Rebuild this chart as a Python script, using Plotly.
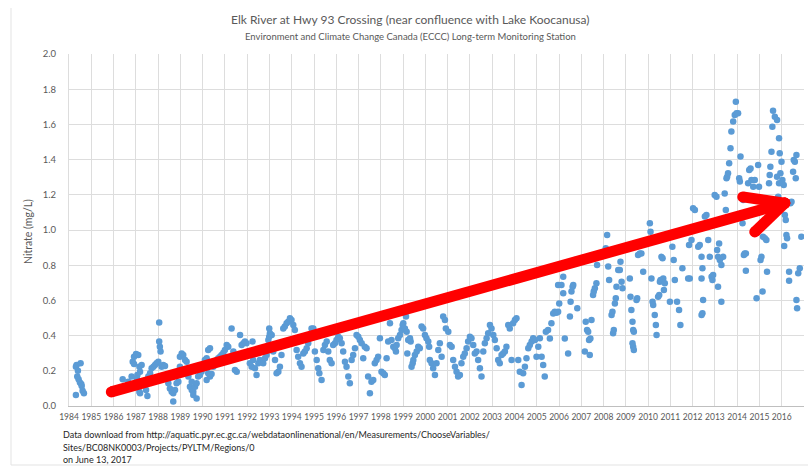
import plotly.graph_objects as go

# ---------------- data (decimal year, nitrate mg/L) ----------------
dates_1984_1991 = [1984.31, 1984.34, 1984.40, 1984.52, 1984.37, 1984.43, 1984.49, 1984.55, 1984.57, 1984.61,
                   1984.67, 1984.31, 1986.41, 1986.66, 1986.81, 1986.86, 1986.92, 1987.01, 1987.11, 1986.92,
                   1987.16, 1987.26, 1987.19, 1987.07, 1987.04, 1987.19, 1987.16, 1987.46, 1987.52, 1987.41,
                   1987.56, 1987.64, 1987.71, 1987.79, 1987.86, 1987.93, 1988.01, 1988.05, 1988.08, 1988.11,
                   1988.05, 1988.16, 1988.23, 1988.31, 1988.38, 1988.46, 1988.53, 1988.61, 1988.68, 1988.76,
                   1988.68, 1988.83, 1988.91, 1988.98, 1989.06, 1989.13, 1989.21, 1989.28, 1988.98, 1989.36,
                   1989.43, 1989.51, 1989.58, 1989.66, 1989.73, 1989.51, 1989.58, 1989.73, 1989.80, 1989.88,
                   1989.95, 1990.03, 1990.10, 1990.18, 1990.25, 1990.33, 1990.18, 1990.25, 1990.33, 1990.40,
                   1990.48, 1990.55, 1990.63, 1990.70, 1990.78, 1990.85, 1990.93, 1991.00, 1991.08, 1991.15]
nitrate_1984_1991 = [0.223, 0.233, 0.200, 0.243, 0.167, 0.152, 0.133, 0.125, 0.114, 0.087,
                     0.072, 0.062, 0.152, 0.138, 0.167, 0.252, 0.280, 0.296, 0.290, 0.239,
                     0.223, 0.233, 0.195, 0.176, 0.157, 0.072, 0.081, 0.091, 0.057, 0.133,
                     0.167, 0.186, 0.214, 0.223, 0.233, 0.243, 0.252, 0.366, 0.337, 0.309,
                     0.475, 0.223, 0.233, 0.227, 0.167, 0.129, 0.100, 0.081, 0.072, 0.091,
                     0.025, 0.129, 0.138, 0.280, 0.299, 0.290, 0.261, 0.252, 0.223, 0.167,
                     0.110, 0.091, 0.081, 0.110, 0.129, 0.138, 0.062, 0.043, 0.167, 0.176,
                     0.195, 0.214, 0.261, 0.271, 0.318, 0.328, 0.148, 0.186, 0.167, 0.182,
                     0.223, 0.243, 0.261, 0.271, 0.280, 0.290, 0.303, 0.318, 0.347, 0.337]

dates_1991_1998 = [1991.30, 1991.38, 1991.45, 1991.53, 1991.68, 1991.75, 1991.83, 1991.90, 1991.97, 1992.05,
                   1992.12, 1992.20, 1992.24, 1992.27, 1992.35, 1992.42, 1992.50, 1992.57, 1992.65, 1992.72,
                   1992.80, 1992.87, 1992.95, 1992.99, 1993.02, 1993.10, 1992.99, 1993.17, 1993.25, 1993.32,
                   1993.40, 1993.47, 1993.54, 1993.62, 1993.69, 1993.77, 1993.84, 1993.92, 1993.99, 1994.07,
                   1994.14, 1994.22, 1994.29, 1994.37, 1994.44, 1994.52, 1994.59, 1994.67, 1994.74, 1994.82,
                   1994.89, 1994.97, 1995.04, 1995.12, 1995.19, 1995.24, 1995.34, 1995.42, 1995.49, 1995.57,
                   1995.64, 1995.71, 1995.79, 1995.86, 1995.94, 1996.01, 1996.09, 1996.16, 1996.24, 1996.31,
                   1996.39, 1996.46, 1996.54, 1996.61, 1996.69, 1996.76, 1996.84, 1996.91, 1996.99, 1997.06,
                   1997.14, 1997.21, 1997.28, 1997.36, 1997.43, 1997.51, 1997.58, 1997.66, 1997.73, 1997.81,
                   1997.88, 1997.96, 1998.03, 1998.11, 1998.18, 1998.26, 1998.33]
nitrate_1991_1998 = [0.441, 0.309, 0.204, 0.195, 0.403, 0.347, 0.356, 0.366, 0.356, 0.309,
                     0.243, 0.223, 0.366, 0.261, 0.214, 0.176, 0.243, 0.261, 0.252, 0.243,
                     0.271, 0.290, 0.375, 0.394, 0.413, 0.403, 0.441, 0.309, 0.261, 0.186,
                     0.195, 0.223, 0.290, 0.441, 0.451, 0.470, 0.479, 0.498, 0.489, 0.460,
                     0.432, 0.318, 0.280, 0.243, 0.223, 0.299, 0.309, 0.328, 0.356, 0.385,
                     0.441, 0.441, 0.309, 0.261, 0.214, 0.186, 0.148, 0.318, 0.347, 0.366,
                     0.309, 0.261, 0.243, 0.347, 0.356, 0.375, 0.394, 0.385, 0.356, 0.309,
                     0.252, 0.223, 0.167, 0.129, 0.261, 0.290, 0.328, 0.403, 0.394, 0.375,
                     0.356, 0.271, 0.337, 0.328, 0.167, 0.072, 0.138, 0.148, 0.243, 0.261,
                     0.280, 0.385, 0.195, 0.186, 0.176, 0.271, 0.366]

dates_1998_2005 = [1998.41, 1998.48, 1998.56, 1998.63, 1998.68, 1998.71, 1998.78, 1998.86, 1998.93, 1998.98,
                   1999.01, 1999.08, 1999.13, 1999.16, 1999.19, 1999.23, 1999.31, 1999.34, 1999.38, 1999.43,
                   1999.46, 1999.53, 1999.61, 1999.68, 1999.75, 1999.83, 1999.90, 1999.98, 2000.05, 2000.13,
                   2000.17, 2000.20, 2000.28, 2000.35, 2000.43, 2000.50, 2000.58, 2000.65, 2000.73, 2000.80,
                   2000.88, 2000.92, 2001.03, 2001.10, 2001.18, 2001.25, 2001.33, 2001.40, 2001.47, 2001.55,
                   2001.62, 2001.70, 2001.77, 2001.85, 2001.92, 2002.00, 2002.07, 2002.15, 2002.22, 2002.30,
                   2002.37, 2002.45, 2002.52, 2002.60, 2002.67, 2002.75, 2002.82, 2002.90, 2002.97, 2003.05,
                   2003.12, 2003.20, 2003.27, 2003.34, 2003.42, 2003.49, 2003.57, 2003.64, 2003.72, 2003.79,
                   2003.87, 2003.94, 2004.02, 2004.09, 2004.17, 2004.24, 2004.32, 2004.39, 2004.47, 2004.54,
                   2004.62, 2004.69, 2004.77, 2004.84, 2004.92, 2004.99, 2005.07, 2005.14, 2005.22, 2005.29,
                   2005.36, 2005.41, 2005.51]
nitrate_1998_2005 = [0.470, 0.375, 0.337, 0.328, 0.309, 0.347, 0.385, 0.403, 0.432, 0.460,
                     0.470, 0.441, 0.508, 0.422, 0.299, 0.375, 0.385, 0.366, 0.223, 0.243,
                     0.261, 0.290, 0.309, 0.337, 0.328, 0.451, 0.441, 0.403, 0.385, 0.366,
                     0.337, 0.261, 0.243, 0.214, 0.176, 0.243, 0.318, 0.356, 0.280, 0.508,
                     0.489, 0.441, 0.422, 0.347, 0.337, 0.261, 0.223, 0.195, 0.167, 0.176,
                     0.243, 0.280, 0.299, 0.328, 0.366, 0.394, 0.385, 0.347, 0.299, 0.309,
                     0.261, 0.214, 0.167, 0.309, 0.356, 0.385, 0.413, 0.460, 0.441, 0.403,
                     0.375, 0.328, 0.261, 0.243, 0.290, 0.299, 0.309, 0.337, 0.460, 0.441,
                     0.261, 0.470, 0.489, 0.498, 0.261, 0.195, 0.119, 0.186, 0.223, 0.271,
                     0.328, 0.347, 0.366, 0.385, 0.375, 0.280, 0.337, 0.385, 0.280, 0.233,
                     0.167, 0.422, 0.432]

dates_2005_2011 = [2005.59, 2005.66, 2005.74, 2005.81, 2005.89, 2005.96, 2006.01, 2005.96, 2006.11, 2006.19,
                   2006.19, 2006.26, 2006.41, 2006.49, 2006.52, 2006.56, 2006.61, 2006.64, 2006.71, 2006.82,
                   2007.16, 2007.20, 2007.26, 2007.31, 2007.35, 2007.38, 2007.41, 2007.46, 2007.53, 2007.56,
                   2007.61, 2007.68, 2007.71, 2008.10, 2008.16, 2008.21, 2008.25, 2008.36, 2008.40, 2008.43,
                   2008.46, 2008.51, 2008.55, 2008.58, 2008.66, 2008.73, 2008.76, 2008.81, 2008.85, 2009.18,
                   2009.21, 2009.25, 2009.30, 2009.33, 2009.36, 2009.30, 2009.33, 2009.36, 2009.48, 2009.51,
                   2009.55, 2009.63, 2009.70, 2009.78, 2010.08, 2010.11, 2010.15, 2010.20, 2010.23, 2010.30,
                   2010.35, 2010.38, 2010.45, 2010.50, 2010.53, 2010.56, 2010.60, 2010.65, 2010.68, 2010.71,
                   2010.75, 2010.98, 2011.09, 2011.15, 2011.20, 2011.30, 2011.39, 2011.45, 2011.54, 2011.80,
                   2011.84]
nitrate_2005_2011 = [0.384, 0.470, 0.526, 0.536, 0.530, 0.536, 0.583, 0.687, 0.687, 0.735,
                     0.640, 0.384, 0.299, 0.508, 0.593, 0.650, 0.678, 0.687, 0.830, 0.555,
                     0.309, 0.479, 0.432, 0.422, 0.375, 0.290, 0.384, 0.489, 0.631, 0.650,
                     0.669, 0.697, 0.801, 0.896, 0.972, 0.792, 0.716, 0.517, 0.536, 0.413,
                     0.432, 0.583, 0.612, 0.678, 0.773, 0.773, 0.820, 0.706, 0.669, 0.725,
                     0.621, 0.545, 0.479, 0.432, 0.422, 0.356, 0.337, 0.318, 0.602, 0.612,
                     0.858, 0.867, 0.867, 0.763, 1.038, 0.990, 0.725, 0.593, 0.574, 0.517,
                     0.460, 0.403, 0.621, 0.631, 0.706, 0.716, 0.848, 0.839, 0.725, 0.659,
                     0.697, 0.593, 0.905, 0.830, 0.716, 0.593, 0.545, 0.460, 0.782, 0.725,
                     0.915]

dates_2012_2016 = [2011.87, 2011.95, 2012.02, 2012.10, 2012.25, 2012.32, 2012.40, 2012.40, 2012.44, 2012.47,
                   2012.44, 2012.40, 2012.55, 2012.62, 2012.70, 2012.77, 2012.85, 2012.89, 2012.92, 2012.99,
                   2013.07, 2013.10, 2013.14, 2013.19, 2013.22, 2013.25, 2013.29, 2013.29, 2013.14, 2013.37,
                   2013.44, 2013.49, 2013.52, 2013.55, 2013.59, 2013.64, 2013.70, 2013.74, 2013.82, 2013.89,
                   2013.97, 2014.04, 2013.94, 2014.09, 2014.12, 2014.15, 2014.19, 2014.24, 2014.27, 2014.30,
                   2014.34, 2014.39, 2014.39, 2014.49, 2014.54, 2014.60, 2014.64, 2014.72, 2014.79, 2014.87,
                   2014.94, 2014.98, 2015.05, 2015.09, 2015.14, 2015.16, 2015.24, 2015.31, 2015.34, 2015.43,
                   2015.46, 2015.49, 2015.54, 2015.58, 2015.61, 2015.69, 2015.79, 2015.88, 2015.91, 2015.94,
                   2015.99, 2016.03, 2016.09, 2015.84, 2015.79, 2015.88, 2016.14, 2016.18, 2016.11, 2016.21,
                   2016.24, 2016.33, 2016.33, 2016.39, 2016.44, 2016.51, 2016.54, 2016.59, 2016.63, 2016.66,
                   2016.66, 2016.69, 2016.74, 2016.81, 2016.88]
nitrate_2012_2016 = [0.725, 0.943, 1.123, 1.114, 0.905, 0.915, 0.848, 0.725, 0.782, 0.602,
                     0.527, 0.517, 1.076, 1.085, 0.943, 0.848, 0.735, 0.716, 0.744, 1.199,
                     1.189, 0.886, 0.848, 0.924, 0.830, 0.839, 0.801, 0.593, 0.678, 0.848,
                     1.208, 1.114, 1.294, 1.303, 1.322, 1.379, 1.464, 1.559, 1.616, 1.653,
                     1.663, 1.663, 1.729, 1.294, 1.275, 1.417, 1.095, 1.038, 1.170, 0.858,
                     0.867, 0.867, 0.769, 1.265, 1.341, 1.350, 1.284, 1.246, 1.284, 0.612,
                     1.369, 1.246, 0.830, 0.848, 0.650, 0.962, 0.953, 0.943, 0.763, 1.265,
                     1.313, 1.360, 1.445, 1.587, 1.678, 1.644, 1.625, 1.521, 1.436, 1.322,
                     1.388, 1.284, 1.256, 1.189, 1.303, 1.265, 1.085, 1.057, 0.909, 0.972,
                     0.953, 0.763, 0.712, 1.152, 1.161, 1.331, 1.398, 1.388, 1.294, 1.426,
                     0.602, 0.555, 0.754, 0.782, 0.962]

year_ticks = [1984, 1985, 1986, 1987, 1988, 1989, 1990, 1991, 1992, 1993, 1994, 1995, 1996, 1997, 1998,
              1999, 2000, 2001, 2002, 2003, 2004, 2005, 2006, 2007, 2008, 2009, 2010, 2011, 2012, 2013,
              2014, 2015, 2016]
nitrate_ticks = [0.0, 0.2, 0.4, 0.6, 0.8, 1.0, 1.2, 1.4, 1.6, 1.8, 2.0]

# red trend arrow (tail, tip, upper barb end, lower barb end) in data units
arrow_tail = (1985.9, 0.08)
arrow_tip = (2016.14, 1.153)
arrow_barb_up = (2014.25, 1.188)
arrow_barb_low = (2014.79, 0.989)

title_text = "Elk River at Hwy 93 Crossing (near confluence with Lake Koocanusa)"
subtitle_text = "Environment and Climate Change Canada (ECCC) Long-term Monitoring Station"
footer_lines = [
    "Data download from http://aquatic.pyr.ec.gc.ca/webdataonlinenational/en/Measurements/ChooseVariables/",
    "Sites/BC08NK0003/Projects/PYLTM/Regions/0",
    "on June 13, 2017",
]

# ---------------- figure ----------------
x_all = dates_1984_1991 + dates_1991_1998 + dates_1998_2005 + dates_2005_2011 + dates_2012_2016
y_all = nitrate_1984_1991 + nitrate_1991_1998 + nitrate_1998_2005 + nitrate_2005_2011 + nitrate_2012_2016

FONT = "Lato, 'Liberation Sans', Arial, sans-serif"
GREY = "#595959"

fig = go.Figure()
fig.add_trace(go.Scatter(
    x=x_all, y=y_all, mode="markers",
    marker=dict(color="#5B9BD5", size=6.5, line=dict(width=0)),
    hoverinfo="skip", showlegend=False,
))

ax = [arrow_tail[0], arrow_tip[0], None, arrow_tip[0], arrow_barb_up[0], None, arrow_tip[0], arrow_barb_low[0]]
ay = [arrow_tail[1], arrow_tip[1], None, arrow_tip[1], arrow_barb_up[1], None, arrow_tip[1], arrow_barb_low[1]]
fig.add_trace(go.Scatter(
    x=ax, y=ay, mode="lines+markers",
    line=dict(color="#FF0000", width=11),
    marker=dict(color="#FF0000", size=11, line=dict(width=0)),
    hoverinfo="skip", showlegend=False, connectgaps=False,
))

fig.update_layout(
    width=808, height=467,
    margin=dict(l=69, r=4, t=54, b=61),
    paper_bgcolor="white", plot_bgcolor="white",
    font=dict(family=FONT, color=GREY),
    showlegend=False,
    xaxis=dict(
        range=[1984, 2017], tickmode="array", tickvals=year_ticks,
        ticktext=[str(t) for t in year_ticks],
        showgrid=True, gridcolor="#DDDDDD", gridwidth=1,
        zeroline=False, showline=True, linecolor="#BFBFBF", linewidth=1,
        ticks="outside", ticklen=3, tickcolor="rgba(0,0,0,0)",
        tickfont=dict(size=8.5, color=GREY, family=FONT),
    ),
    yaxis=dict(
        range=[0, 2.0], tickmode="array", tickvals=nitrate_ticks,
        ticktext=[f"{v:.1f}" for v in nitrate_ticks],
        showgrid=True, gridcolor="#DDDDDD", gridwidth=1,
        zeroline=False, showline=True, linecolor="#DDDDDD", linewidth=1,
        ticks="outside", ticklen=10, tickcolor="rgba(0,0,0,0)",
        tickfont=dict(size=9.5, color=GREY, family=FONT),
    ),
)

PLOT_W = 808 - 69 - 4
PLOT_H = 467 - 54 - 61

def px_x(p):
    return (p - 69) / PLOT_W

def px_y(p):
    return (406 - p) / PLOT_H

annotations = [
    dict(text=title_text, x=px_x(410), y=px_y(20), xref="paper", yref="paper",
         xanchor="center", yanchor="middle", showarrow=False,
         font=dict(size=12, color=GREY, family=FONT)),
    dict(text=subtitle_text, x=px_x(410), y=px_y(37), xref="paper", yref="paper",
         xanchor="center", yanchor="middle", showarrow=False,
         font=dict(size=9.5, color=GREY, family=FONT)),
    dict(text="Nitrate (mg/L)", x=px_x(28), y=px_y(232), xref="paper", yref="paper",
         xanchor="center", yanchor="middle", showarrow=False, textangle=-90,
         font=dict(size=10.5, color=GREY, family=FONT)),
]
for line, py in zip(footer_lines, [435, 447, 459]):
    annotations.append(dict(text=line, x=px_x(61), y=px_y(py), xref="paper", yref="paper",
                            xanchor="left", yanchor="middle", showarrow=False,
                            font=dict(size=9, color="#262626", family=FONT)))
fig.update_layout(annotations=annotations)

# faint chart frame (left and bottom edges)
fig.add_shape(type="line", xref="paper", yref="paper", x0=px_x(11), x1=px_x(11),
              y0=px_y(465), y1=px_y(8), line=dict(color="#E3E3E3", width=1))
fig.add_shape(type="line", xref="paper", yref="paper", x0=px_x(11), x1=px_x(808),
              y0=px_y(465), y1=px_y(465), line=dict(color="#E3E3E3", width=1))

fig.write_html("out.html")
